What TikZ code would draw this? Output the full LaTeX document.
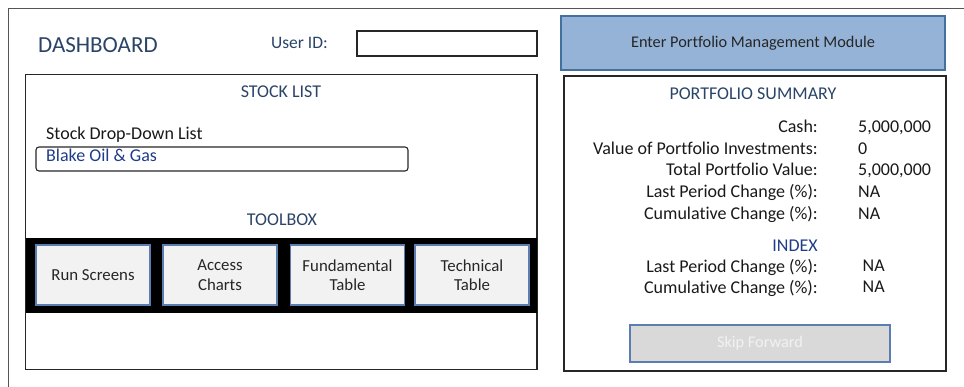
\documentclass[tikz,border=0pt]{standalone}
\usepackage{fontspec}
\setmainfont[Ligatures=NoCommon]{Carlito}
\definecolor{hdblue}{HTML}{2A4468}
\definecolor{lnkblue}{HTML}{1F3C88}
\definecolor{pmfill}{HTML}{95B3D7}
\definecolor{pmdraw}{HTML}{41719C}
\definecolor{btnfill}{HTML}{F2F2F2}
\definecolor{btndraw}{HTML}{5B7DB1}
\definecolor{skipfill}{HTML}{D9D9D9}
\definecolor{framegray}{HTML}{555555}
\tikzset{
  body/.style={font=\fontsize{18}{21}\selectfont, inner sep=0pt, text=black!90},
  head/.style={font=\fontsize{18}{21}\selectfont, inner sep=0pt, text=hdblue},
  panel/.style={draw=black!85, line width=1.3pt},
  toolbtn/.style={draw=btndraw, line width=1.1pt, fill=btnfill, minimum width=114pt, minimum height=60pt,
     align=center, font=\fontsize{16.8}{19.5}\selectfont, inner sep=0pt, text=black!85},
}
\begin{document}
\begin{tikzpicture}[x=1pt,y=-1pt]
\useasboundingbox (0,0) rectangle (964,387);
% outer frame (right and bottom edges outside the picture)
\coordinate (fbl) at (8.5,387);
\coordinate (ftl) at (8.5,8.5);
\coordinate (ftr) at (964,8.5);
\draw[framegray, line width=1.3pt] (fbl) -- (ftl) -- (ftr);

% header
\node[head, anchor=base west, font=\fontsize{23}{26}\selectfont] (dash) at (38,52.3) {DASHBOARD};
\node[head, anchor=base east, font=\fontsize{17.5}{21}\selectfont] (uid) at (328,49) {User ID:};
\node[draw=black!85, line width=1.3pt, minimum width=180pt, minimum height=25pt, inner sep=0pt] (uidbox) at (447,43.5) {};
\node[draw=pmdraw, line width=1.1pt, fill=pmfill, minimum width=384pt, minimum height=54pt, inner sep=0pt,
      font=\fontsize{16.3}{19}\selectfont, text=black!85] (pm) at (753,43) {Enter Portfolio Management Module};

% stock list panel
\node[panel, minimum width=511.5pt, minimum height=295pt, inner sep=0pt] (stock) at (281.25,222) {};
\node[head, anchor=base] (stocktitle) at (281,97.3) {STOCK LIST};
\node[body, anchor=base west] (ddl) at (46,140) {Stock Drop-Down List};
\node[draw=black!85, line width=1.1pt, rounded corners=3pt, minimum width=372pt, minimum height=24pt, inner sep=0pt] (blakebox) at (222,159) {};
\node[body, anchor=base west, text=lnkblue] (blake) at (46,161.7) {Blake Oil \& Gas};
\node[head, anchor=base] (toolbox) at (282,226) {TOOLBOX};
\node[fill=black, minimum width=511pt, minimum height=75pt, inner sep=0pt] (band) at (281.5,275.5) {};
\node[toolbtn] (run) at (93,275) {Run Screens};
\node[toolbtn] (charts) at (220,275) {Access\\Charts};
\node[toolbtn] (fund) at (347.5,275) {Fundamental\\Table};
\node[toolbtn] (tech) at (472,275) {Technical\\Table};

% portfolio panel
\node[panel, minimum width=382pt, minimum height=295pt, inner sep=0pt] (port) at (755,223.5) {};
\node[head, anchor=base] (porttitle) at (753,100) {PORTFOLIO SUMMARY};
\node[body, anchor=base east] (l1) at (818,133) {Cash:};
\node[body, anchor=base east] (l2) at (818,154.5) {Value of Portfolio Investments:};
\node[body, anchor=base east] (l3) at (818,176) {Total Portfolio Value:};
\node[body, anchor=base east] (l4) at (818,198) {Last Period Change (\%):};
\node[body, anchor=base east] (l5) at (818,219.5) {Cumulative Change (\%):};
\node[body, anchor=base west] (v1) at (858,133) {5,000,000};
\node[body, anchor=base west] (v2) at (858,154.5) {0};
\node[body, anchor=base west] (v3) at (858,176) {5,000,000};
\node[body, anchor=base west] (v4) at (858,198) {NA};
\node[body, anchor=base west] (v5) at (858,219.5) {NA};
\node[head, anchor=base east, text=lnkblue] (idx) at (818,251.7) {INDEX};
\node[body, anchor=base east] (i1) at (818,272.7) {Last Period Change (\%):};
\node[body, anchor=base east] (i2) at (818,293.3) {Cumulative Change (\%):};
\node[body, anchor=base west] (iv1) at (862.5,271.7) {NA};
\node[body, anchor=base west] (iv2) at (862.5,292.7) {NA};
\node[draw=btndraw, line width=1.1pt, fill=skipfill, minimum width=260pt, minimum height=37pt, inner sep=0pt,
      font=\fontsize{16.3}{19}\selectfont, text=btnfill] (skip) at (760,343.5) {Skip Forward};
\end{tikzpicture}
\end{document}
